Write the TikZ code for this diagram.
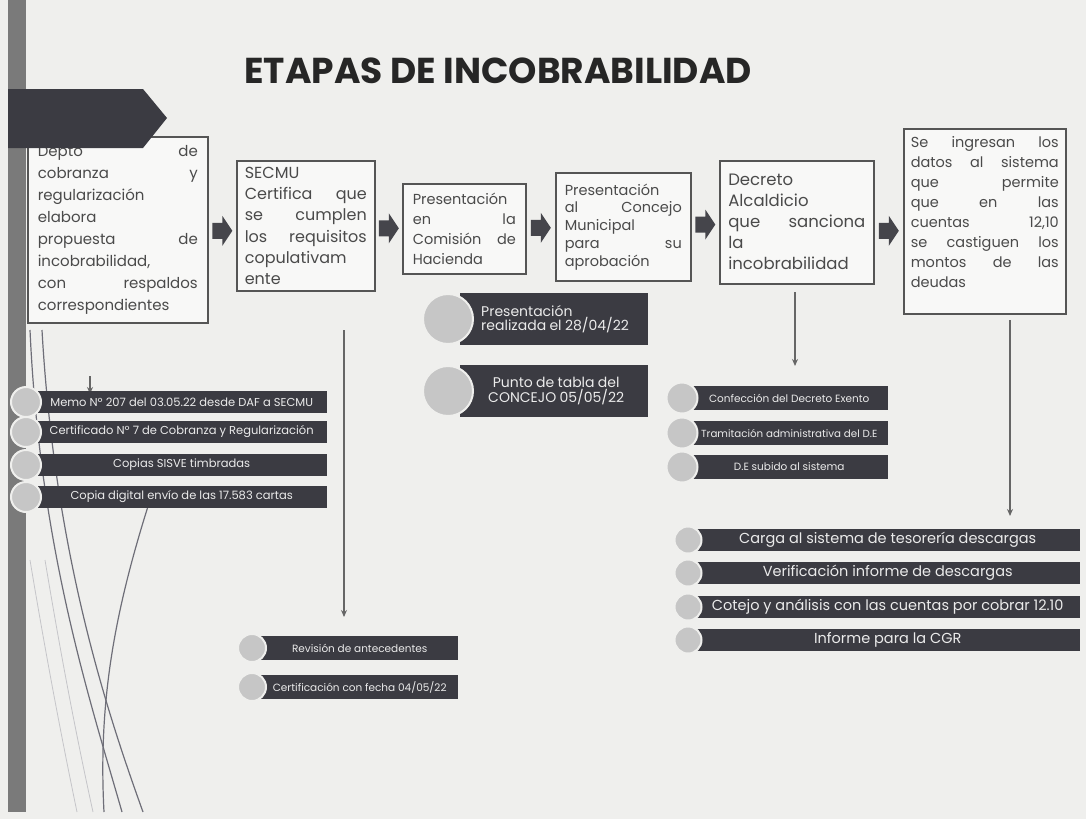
\documentclass[tikz,border=0pt]{standalone}
\usepackage{fontspec}
\setmainfont{Poppins}
\usetikzlibrary{arrows.meta,calc}
\definecolor{bg}{HTML}{EFEFED}
\definecolor{dark}{HTML}{3B3B42}
\definecolor{boxline}{HTML}{555555}
\definecolor{circ}{HTML}{C6C6C6}
\definecolor{sidebar}{HTML}{7A7A7A}
\definecolor{txt}{HTML}{4A4A4A}
\definecolor{curve}{HTML}{6E6E78}
\tikzset{
 stage/.style={draw=boxline, line width=1.6pt, fill=white!55!bg, inner sep=0pt, anchor=north west, text=txt},
 fatarrow/.pic={\fill[dark!95] (-10,-8) -- (0,-8) -- (0,-15) -- (10,0) -- (0,15) -- (0,8) -- (-10,8) -- cycle;},
 thinarrow/.style={draw=gray!80!black, line width=1.3pt, -{Stealth[length=7pt,width=6pt]}},
 bar/.style={fill=dark, text=white!92!black, inner sep=0pt, anchor=west},
 dot/.style={circle, fill=circ, draw=bg, line width=2pt, inner sep=0pt},
 deco/.style={draw=curve, line width=1.2pt},
 decolight/.style={draw=curve!40, line width=0.8pt},
}
\begin{document}
\begin{tikzpicture}[x=1pt,y=-1pt]
\useasboundingbox (0,0) rectangle (1086,819);
\fill[bg] (0,0) rectangle (1086,819);
% decorative curves
\draw[decolight] (30,560) .. controls (45,650) and (60,730) .. (77,812);
\draw[decolight] (45,560) .. controls (60,650) and (75,730) .. (93,812);
\draw[deco] (30,330) .. controls (40,550) and (90,700) .. (122,812);
\draw[deco] (42,330) .. controls (55,560) and (110,720) .. (143,812);
\draw[deco] (150,500) .. controls (115,610) and (98,700) .. (104,812);
% side bar
\fill[sidebar] (8,0) rectangle (26,812);
% title
\node[text=black!85] (title) at (498,71) {\fontsize{36}{40}\selectfont\bfseries ETAPAS DE INCOBRABILIDAD};
% stage boxes
\node[stage, minimum width=180pt, minimum height=186pt] (b1) at (27,136)
 {\parbox{160pt}{\fontsize{15}{22}\selectfont Depto \hfill de\\cobranza \hfill y\\regularización\\elabora\\propuesta \hfill de\\incobrabilidad,\\con \hfill respaldos\\correspondientes}};
\node[stage, minimum width=138pt, minimum height=130pt] (b2) at (236,160)
 {\parbox{122pt}{\fontsize{16}{21.3}\selectfont SECMU\\Certifica \hfill que\\se \hfill cumplen\\los \hfill requisitos\\copulativam\\ente}};
\node[stage, minimum width=123pt, minimum height=90pt] (b3) at (402,183)
 {\parbox{103pt}{\fontsize{14.5}{20}\selectfont Presentación\\en \hfill la\\Comisión \hfill de\\Hacienda}};
\node[stage, minimum width=135pt, minimum height=108pt] (b4) at (555,172)
 {\parbox{117pt}{\fontsize{14.5}{17.8}\selectfont Presentación\\al \hfill Concejo\\Municipal\\para \hfill su\\aprobación}};
\node[stage, minimum width=154pt, minimum height=123pt] (b5) at (719,160)
 {\parbox{137pt}{\fontsize{16.5}{21}\selectfont Decreto\\Alcaldicio\\que \hfill sanciona\\la\\incobrabilidad}};
\node[stage, minimum width=162pt, minimum height=185pt] (b6) at (903,128)
 {\parbox{148pt}{\fontsize{14.5}{20}\selectfont Se \hfill ingresan \hfill los\\datos \hfill al \hfill sistema\\que \hfill permite\\que \hfill en \hfill las\\cuentas \hfill 12,10\\se \hfill castiguen \hfill los\\montos \hfill de \hfill las\\deudas\par\vspace*{18pt}}};
% header chevron
\fill[dark] (8,89) -- (143,89) -- (167,118) -- (143,148) -- (8,148) -- cycle;
% fat arrows between stages
\coordinate (a1) at ($(b1.east)!0.5!(b2.west)+(0,3)$);
\coordinate (a2) at ($(b2.east)!0.5!(b3.west)+(0,1)$);
\coordinate (a3) at ($(b3.east)!0.5!(b4.west)+(0,0)$);
\coordinate (a4) at ($(b4.east)!0.5!(b5.west)+(0,0)$);
\coordinate (a5) at ($(b5.east)!0.5!(b6.west)+(0,9)$);
\foreach \a in {a1,a2,a3,a4,a5} \pic at (\a) {fatarrow};
% thin arrows
\coordinate (t1s) at (90,376); \coordinate (t1e) at (90,394);
\coordinate (t2s) at (344,330); \coordinate (t2e) at (344,617);
\coordinate (t5s) at (795,292); \coordinate (t5e) at (795,366);
\coordinate (t6s) at (1010,320); \coordinate (t6e) at (1010,516);
\draw[thinarrow] (t1s) -- (t1e);
\draw[thinarrow] (t2s) -- (t2e);
\draw[thinarrow] (t5s) -- (t5e);
\draw[thinarrow] (t6s) -- (t6e);
% list A
\node[bar, minimum width=291pt, minimum height=22pt] (la1) at (36,402) {\fontsize{11.5}{13}\selectfont Memo Nº 207 del 03.05.22 desde DAF a SECMU};
\node[bar, minimum width=291pt, minimum height=22pt] (la2) at (36,432) {\fontsize{11.5}{13}\selectfont Certificado Nº 7 de Cobranza y Regularización};
\node[bar, minimum width=291pt, minimum height=22pt] (la3) at (36,465) {\fontsize{11.5}{13}\selectfont Copias SISVE timbradas};
\node[bar, minimum width=291pt, minimum height=22pt] (la4) at (36,497) {\fontsize{11.5}{13}\selectfont Copia digital envío de las 17.583 cartas};
\foreach \y/\n in {402/1,432/2,465/3,497/4} \node[dot, minimum size=30pt] (da\n) at (26,\y) {};
% list B
\node[bar, minimum width=188pt, minimum height=52pt, text width=162pt, align=left] (lb1) at (460,319) {\fontsize{14}{16}\selectfont \hspace*{8pt}Presentación\\\hspace*{8pt}realizada el 28/04/22};
\node[bar, minimum width=188pt, minimum height=52pt, text width=162pt, align=center] (lb2) at (460,391) {\fontsize{14}{16}\selectfont \hspace*{4pt}Punto de tabla del\\\hspace*{4pt}CONCEJO 05/05/22};
\node[dot, minimum size=50pt] (db1) at (448,319) {};
\node[dot, minimum size=50pt] (db2) at (448,391) {};
% list C
\node[bar, minimum width=198pt, minimum height=24pt] (lc1) at (690,398) {\fontsize{10.5}{12}\selectfont Confección del Decreto Exento};
\node[bar, minimum width=198pt, minimum height=24pt] (lc2) at (690,433) {\fontsize{10.3}{12}\selectfont Tramitación administrativa del D.E};
\node[bar, minimum width=198pt, minimum height=24pt] (lc3) at (690,467) {\fontsize{10.5}{12}\selectfont D.E subido al sistema};
\foreach \y/\n in {398/1,433/2,467/3} \node[dot, minimum size=31pt] (dc\n) at (682,\y) {};
% list D
\node[bar, minimum width=385pt, minimum height=22pt] (ld1) at (695,540) {\fontsize{14.5}{15}\selectfont Carga al sistema de tesorería descargas};
\node[bar, minimum width=385pt, minimum height=22pt] (ld2) at (695,573) {\fontsize{14.5}{15}\selectfont Verificación informe de descargas};
\node[bar, minimum width=385pt, minimum height=22pt] (ld3) at (695,607) {\fontsize{14.5}{15}\selectfont Cotejo y análisis con las cuentas por cobrar 12.10};
\node[bar, minimum width=385pt, minimum height=22pt] (ld4) at (695,640) {\fontsize{14.5}{15}\selectfont Informe para la CGR};
\foreach \y/\n in {540/1,573/2,607/3,640/4} \node[dot, minimum size=27pt] (dd\n) at (688,\y) {};
% list E
\node[bar, minimum width=197pt, minimum height=24pt] (le1) at (261,648) {\fontsize{10.5}{12}\selectfont Revisión de antecedentes};
\node[bar, minimum width=197pt, minimum height=24pt] (le2) at (261,687) {\fontsize{10.5}{12}\selectfont Certificación con fecha 04/05/22};
\foreach \y/\n in {648/1,687/2} \node[dot, minimum size=28pt] (de\n) at (252,\y) {};
\end{tikzpicture}
\end{document}
